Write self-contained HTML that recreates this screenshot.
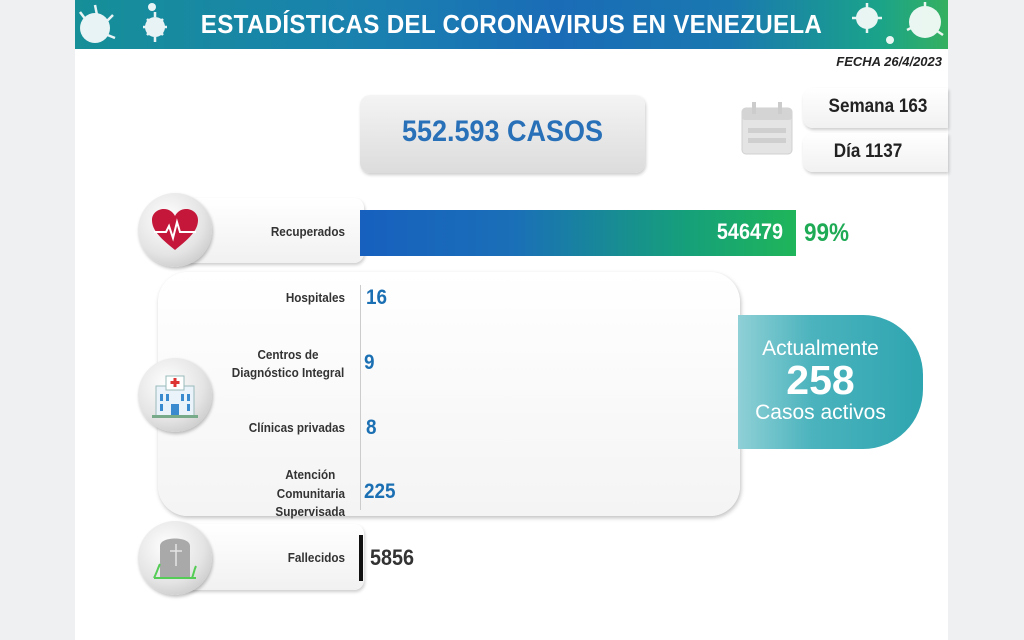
<!DOCTYPE html>
<html><head><meta charset="utf-8"><style>
*{margin:0;padding:0;box-sizing:border-box}
body{width:1024px;height:640px;background:#eef0f2;position:relative;overflow:hidden;font-family:"Liberation Sans",sans-serif}
.a{position:absolute}
.panel{left:75px;top:0;width:873px;height:640px;background:#fff}
.banner{left:75px;top:0;width:873px;height:49px;background:linear-gradient(90deg,#168f98 0%,#1a80b0 35%,#1a6cb6 55%,#1a78b0 75%,#1aa38a 92%,#35b060 100%)}
.title{left:75px;top:9px;width:873px;text-align:center;color:#fff;font-weight:bold;font-size:26px;transform:scaleX(.93);letter-spacing:.3px}
.lbl{font-size:13px;font-weight:bold;color:#333;text-align:right;transform:scaleX(.9);transform-origin:right}
.val{font-size:21px;font-weight:bold;color:#1b6fb3;transform:scaleX(.9);transform-origin:left}
.circ{width:74px;height:74px;border-radius:50%;background:radial-gradient(circle at 40% 35%,#fff 0%,#e4e4e4 55%,#b8b8b8 100%);box-shadow:1px 2px 3px rgba(0,0,0,.25)}
.box{background:linear-gradient(180deg,#fff,#f1f1f1);border-radius:10px;box-shadow:1px 2px 3px rgba(0,0,0,.2)}
</style></head><body>
<div class="a panel"></div>
<div class="a banner"></div>
<svg class="a" style="left:75px;top:0" width="110" height="49"><g fill="#fff" opacity=".9"><circle cx="20" cy="28" r="15"/><circle cx="80" cy="27" r="10"/><circle cx="77" cy="7" r="4"/><path d="M20 5l2 10M38 15l-8 8M5 12l6 8M40 38l-10-4M80 12v5M92 27h-5M68 27h5M80 42v-5M88 19l-4 4M72 35l4-4M88 35l-4-4M72 19l4 4" stroke="#fff" stroke-width="2.5"/></g></svg>
<svg class="a" style="left:845px;top:0" width="103" height="49"><g fill="#fff" opacity=".9"><circle cx="22" cy="18" r="11"/><circle cx="80" cy="22" r="16"/><circle cx="45" cy="40" r="4"/><path d="M22 3v5M22 33v-5M7 18h5M37 18h-5M80 2v6M62 30l6-3M98 35l-6-4" stroke="#fff" stroke-width="2.5"/></g></svg>
<div class="a title">ESTADÍSTICAS DEL CORONAVIRUS EN VENEZUELA</div>
<div class="a" style="right:82px;top:54px;font-size:13px;font-weight:bold;font-style:italic;color:#222">FECHA 26/4/2023</div>

<div class="a box" style="left:360px;top:95px;width:285px;height:78px;background:linear-gradient(180deg,#f4f4f4,#dcdcdc);"></div>
<div class="a" style="left:360px;top:115px;width:285px;text-align:center;font-size:30px;font-weight:bold;color:#2870b8;transform:scaleX(.9)">552.593 CASOS</div>

<svg class="a" style="left:740px;top:100px" width="55" height="56"><rect x="2" y="8" width="50" height="46" rx="4" fill="#e4e4e4" stroke="#d0d0d0"/><rect x="2" y="8" width="50" height="12" rx="3" fill="#d4d4d4"/><rect x="12" y="2" width="4" height="12" fill="#ccc"/><rect x="38" y="2" width="4" height="12" fill="#ccc"/><g fill="#cfcfcf"><rect x="8" y="28" width="38" height="5"/><rect x="8" y="38" width="38" height="5"/></g></svg>
<div class="a box" style="left:803px;top:88px;width:145px;height:40px;border-radius:10px 0 0 10px"></div>
<div class="a" style="left:803px;top:96px;width:150px;text-align:center;font-size:19px;font-weight:bold;color:#222;transform:scaleX(.9)">Semana 163</div>
<div class="a box" style="left:803px;top:133px;width:145px;height:39px;border-radius:10px 0 0 10px"></div>
<div class="a" style="left:803px;top:141px;width:130px;text-align:center;font-size:19px;font-weight:bold;color:#222;transform:scaleX(.9)">Día 1137</div>

<div class="a box" style="left:170px;top:198px;width:194px;height:65px"></div>
<div class="a circ" style="left:138px;top:193px"></div>
<svg class="a" style="left:150px;top:208px" width="50" height="45"><path d="M25 42C10 30 2 22 2 12 2 5 8 1 14 1c5 0 9 3 11 7 2-4 6-7 11-7 6 0 12 4 12 11 0 10-8 18-23 30z" fill="#c4173a"/><path d="M4 24h12l3-6 4 12 4-16 3 10h16" stroke="#fff" stroke-width="2" fill="none"/></svg>
<div class="a lbl" style="left:200px;top:224px;width:145px">Recuperados</div>
<div class="a" style="left:360px;top:210px;width:436px;height:46px;background:linear-gradient(90deg,#1760be 0%,#1a6fb8 35%,#16a07a 75%,#1fb55a 100%)"></div>
<div class="a" style="left:600px;top:219px;width:183px;text-align:right;font-size:22px;font-weight:bold;color:#fff;transform:scaleX(.9);transform-origin:right">546479</div>
<div class="a" style="left:804px;top:219px;font-size:25px;font-weight:bold;color:#1faa55;transform:scaleX(.9);transform-origin:left">99%</div>

<div class="a" style="left:158px;top:272px;width:582px;height:244px;border-radius:30px;background:linear-gradient(180deg,#fff,#f4f4f4);box-shadow:1px 2px 4px rgba(0,0,0,.25)"></div>
<div class="a" style="left:360px;top:285px;width:1px;height:225px;background:#ccc"></div>
<div class="a" style="left:738px;top:315px;width:185px;height:134px;border-radius:0 60px 60px 0;background:linear-gradient(90deg,#8fd0d6 0%,#4bb3bd 40%,#2ea5b0 100%)"></div>
<div class="a" style="left:738px;top:337px;width:165px;text-align:center;color:#fff;font-size:21px">Actualmente</div>
<div class="a" style="left:738px;top:357px;width:165px;text-align:center;color:#fff;font-size:41px;font-weight:bold">258</div>
<div class="a" style="left:738px;top:401px;width:165px;text-align:center;color:#fff;font-size:21px">Casos activos</div>

<div class="a circ" style="left:138px;top:358px"></div>
<svg class="a" style="left:150px;top:372px" width="50" height="48"><rect x="6" y="14" width="38" height="30" fill="#eaf2fa" stroke="#9bb"/><rect x="16" y="4" width="18" height="14" fill="#fff" stroke="#9bb"/><path d="M25 6v9M20.5 10.5h9" stroke="#d33" stroke-width="3"/><g fill="#3a8ad0"><rect x="10" y="22" width="3" height="7"/><rect x="16" y="22" width="3" height="7"/><rect x="31" y="22" width="3" height="7"/><rect x="37" y="22" width="3" height="7"/><rect x="10" y="32" width="3" height="7"/><rect x="37" y="32" width="3" height="7"/><rect x="21" y="32" width="8" height="12"/></g><rect x="2" y="43" width="46" height="3" fill="#7a8"/></svg>

<div class="a lbl" style="left:200px;top:290px;width:145px">Hospitales</div>
<div class="a lbl" style="left:213px;top:346px;width:150px;line-height:18px;text-align:center;transform-origin:center">Centros de<br>Diagnóstico Integral</div>
<div class="a lbl" style="left:200px;top:420px;width:145px">Clínicas privadas</div>
<div class="a lbl" style="left:250px;top:466px;width:95px;line-height:18.5px;text-align:right">Atención&nbsp;&nbsp;&nbsp;<br>Comunitaria<br>Supervisada</div>
<div class="a val" style="left:366px;top:286px">16</div>
<div class="a val" style="left:364px;top:351px">9</div>
<div class="a val" style="left:366px;top:416px">8</div>
<div class="a val" style="left:364px;top:480px">225</div>

<div class="a box" style="left:170px;top:524px;width:194px;height:66px"></div>
<div class="a circ" style="left:138px;top:521px"></div>
<svg class="a" style="left:152px;top:532px" width="46" height="50"><path d="M8 46V14C8 4 38 4 38 14v32z" fill="#a9a9a9"/><path d="M24 12v22M18 19h12" stroke="#e5e5e5" stroke-width="1.5"/><path d="M2 46c3-6 4-10 6-14M40 46c2-5 2-8 4-12" stroke="#5c5" stroke-width="2" fill="none"/><rect x="2" y="45" width="42" height="2" fill="#5c5"/></svg>
<div class="a lbl" style="left:200px;top:550px;width:145px">Fallecidos</div>
<div class="a" style="left:359px;top:535px;width:4px;height:46px;background:#111"></div>
<div class="a" style="left:370px;top:545px;font-size:22px;font-weight:bold;color:#333;transform:scaleX(.9);transform-origin:left">5856</div>
</body></html>
